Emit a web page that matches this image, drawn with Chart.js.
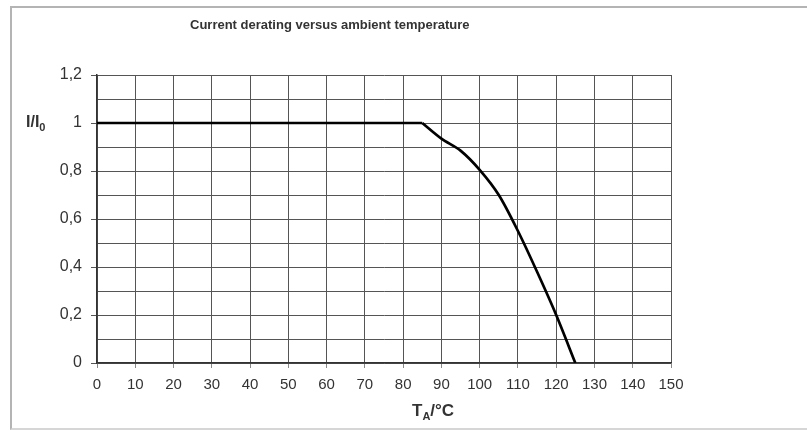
<!DOCTYPE html>
<html>
<head>
<meta charset="utf-8">
<script src="https://cdn.jsdelivr.net/npm/chart.js@4.4.0/dist/chart.umd.min.js"></script>
<style>
  body { margin: 0; background: #fff; }
  #wrap { position: relative; width: 807px; height: 430px; font-family: "Liberation Sans", Arial, sans-serif; color: #333; }
  #frame { position: absolute; left: 10px; top: 6px; right: -4px; bottom: 0px; border: 2px solid #b4b4b4; border-right: none; border-bottom-color: #d6d6d6; }
  #titre { position: absolute; top: 17px; left: 190px; font-size: 13px; font-weight: bold; color: #333; white-space: nowrap; }
  #ylab { position: absolute; top: 113px; left: 26px; font-size: 16px; font-weight: bold; color: #333; }
  #xlab { position: absolute; top: 401px; left: 412px; font-size: 17px; font-weight: bold; color: #333; }
  sub { font-size: 11px; vertical-align: -4px; line-height: 0; }
  canvas { position: absolute; left: 0; top: 0; }
</style>
</head>
<body>
<div id="wrap">
  <div id="frame"></div>
  <canvas id="grafico" width="807" height="430"></canvas>
  <div id="titre">Current derating versus ambient temperature</div>
  <div id="ylab">I/I<sub>0</sub></div>
  <div id="xlab">T<sub>A</sub>/°C</div>
</div>
<script>
// Datos: tramo plano y tramo de reducción
const tempPlano = [0, 85];
const corrientePlano = [1, 1];
const tempCaida = [85, 90, 95, 100, 105, 110, 115, 120, 125];
const corrienteCaida = [1, 0.935, 0.885, 0.805, 0.7, 0.55, 0.38, 0.2, 0];
const xTicks = [0, 10, 20, 30, 40, 50, 60, 70, 80, 90, 100, 110, 120, 130, 140, 150];

const aPuntos = (xs, ys) => xs.map((t, i) => ({ x: t, y: ys[i] }));

const esPar = (v) => Math.round(v * 10) % 2 === 0;

new Chart(document.getElementById("grafico"), {
  type: "line",
  data: {
    datasets: [
      {
        data: aPuntos(tempPlano, corrientePlano),
        borderColor: "#000",
        borderWidth: 2.5,
        pointRadius: 0,
        tension: 0,
      },
      {
        data: aPuntos(tempCaida, corrienteCaida),
        borderColor: "#000",
        borderWidth: 2.7,
        pointRadius: 0,
        tension: 0.3,
      },
    ],
  },
  options: {
    responsive: false,
    animation: false,
    layout: {
      padding: { left: 0, top: 75, right: 136, bottom: 0 },
    },
    plugins: {
      legend: { display: false },
      tooltip: { enabled: false },
    },
    scales: {
      x: {
        type: "linear",
        min: xTicks[0],
        max: xTicks[xTicks.length - 1],
        afterBuildTicks: (s) => { s.ticks = xTicks.map((v) => ({ value: v })); },
        afterFit: (s) => { s.height = 67; },
        border: { color: "#333", width: 1.5 },
        grid: { color: "#555", lineWidth: 1, tickLength: 5, tickColor: "#888" },
        ticks: {
          padding: 8,
          color: "#333",
          font: { family: "Liberation Sans", size: 15 },
          maxRotation: 0,
        },
      },
      y: {
        min: 0,
        max: 1.2,
        ticks: {
          stepSize: 0.1,
          padding: 9,
          color: "#333",
          font: { family: "Liberation Sans", size: 16 },
          callback: (v) => esPar(v) ? String(Math.round(v * 10) / 10).replace(".", ",") : "",
        },
        afterFit: (s) => { s.width = 97; },
        border: { color: "#333", width: 1.5 },
        grid: {
          color: "#555",
          lineWidth: 1,
          tickLength: 6,
          tickColor: (ctx) => esPar(ctx.tick.value) ? "#555" : "rgba(0,0,0,0)",
        },
      },
    },
  },
});
</script>
</body>
</html>
